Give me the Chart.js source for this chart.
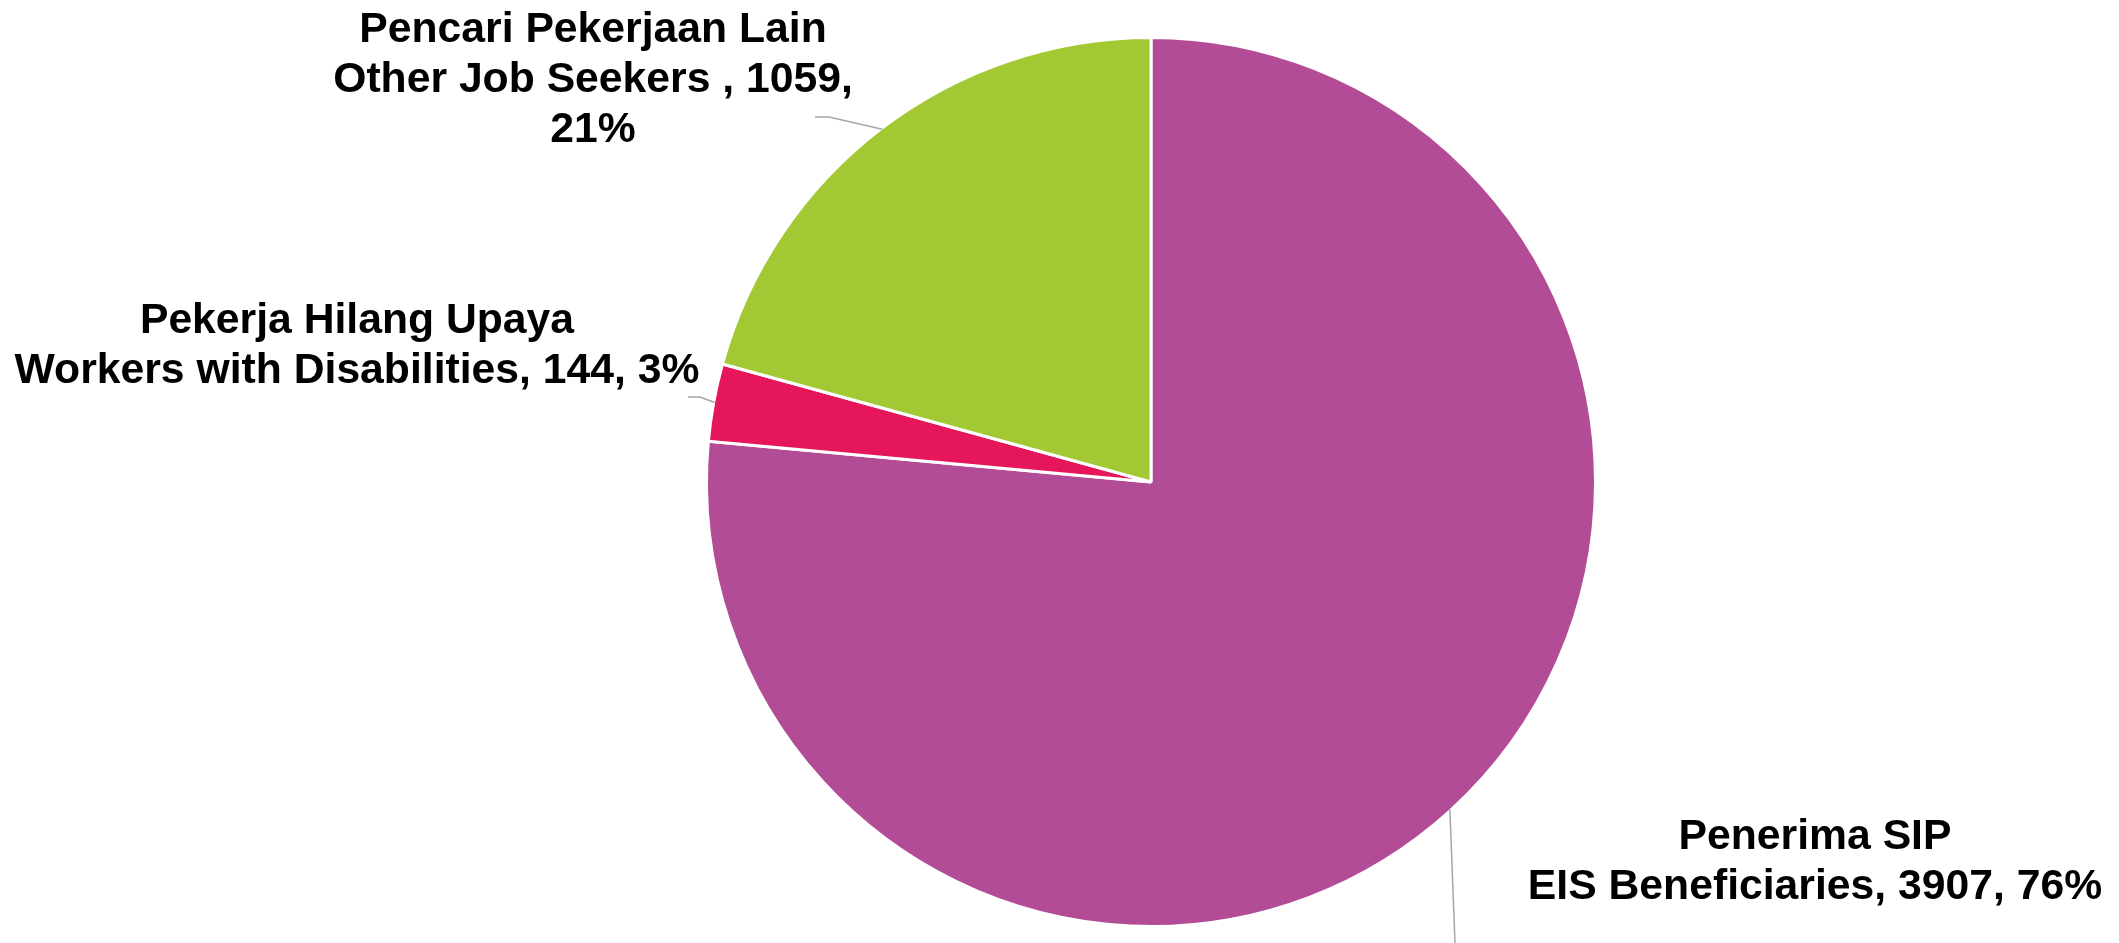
<!DOCTYPE html>
<html>
<head>
<meta charset="utf-8">
<script src="https://cdn.jsdelivr.net/npm/chart.js@4"></script>
<style>
  html, body { margin: 0; padding: 0; background: #ffffff; }
  #wrap { width: 2119px; height: 943px; position: relative; }
</style>
</head>
<body>
<div id="wrap"><canvas id="c" width="2119" height="943"></canvas></div>
<script>
// ---- data ----
const categoriesId = ['Penerima SIP', 'Pekerja Hilang Upaya', 'Pencari Pekerjaan Lain'];
const categoriesEn = ['EIS Beneficiaries', 'Workers with Disabilities', 'Other Job Seekers '];
const values = [3907, 144, 1059];
const percents = ['76%', '3%', '21%'];
const colors = ['#B34C96', '#E6165A', '#A2C934'];

// ---- label layout (text anchor centres / baselines) ----
const labelCenterX = [1815, 357, 593];
const labelFirstBaseline = [849, 333, 42];
const labelLineGap = 50;
const wrapPercent = [false, false, true];
const leaderEnds = [
  [[1455, 943]],
  [[700, 397], [688, 397]],
  [[829, 117], [815, 117]]
];

const labelPlugin = {
  id: 'pieLabels',
  afterDatasetsDraw(chart) {
    const ctx = chart.ctx;
    const meta = chart.getDatasetMeta(0);
    ctx.save();
    // leader lines
    meta.data.forEach((arc, i) => {
      const p = arc.getProps(['x', 'y', 'startAngle', 'endAngle', 'outerRadius'], true);
      const mid = (p.startAngle + p.endAngle) / 2;
      const r = p.outerRadius - 1;
      const sx = p.x + Math.cos(mid) * r;
      const sy = p.y + Math.sin(mid) * r;
      ctx.beginPath();
      ctx.strokeStyle = '#A6A6A6';
      ctx.lineWidth = 1.5;
      ctx.moveTo(sx, sy);
      leaderEnds[i].forEach(pt => ctx.lineTo(pt[0], pt[1]));
      ctx.stroke();
    });
    // texts
    ctx.fillStyle = '#000000';
    ctx.font = 'bold 42.7px "Liberation Sans", Arial, sans-serif';
    ctx.textAlign = 'center';
    ctx.textBaseline = 'alphabetic';
    categoriesId.forEach((name, i) => {
      const lines = [name];
      const tail = categoriesEn[i] + ', ' + values[i] + ',';
      if (wrapPercent[i]) {
        lines.push(tail);
        lines.push(percents[i]);
      } else {
        lines.push(tail + ' ' + percents[i]);
      }
      lines.forEach((t, k) => {
        ctx.fillText(t, labelCenterX[i], labelFirstBaseline[i] + k * labelLineGap);
      });
    });
    ctx.restore();
  }
};

new Chart(document.getElementById('c'), {
  type: 'pie',
  data: {
    labels: categoriesId,
    datasets: [{
      data: values,
      backgroundColor: colors,
      borderColor: '#FFFFFF',
      borderWidth: 3,
      hoverOffset: 0
    }]
  },
  options: {
    responsive: false,
    animation: false,
    devicePixelRatio: 1,
    radius: 444.5,
    layout: { padding: { left: 705, right: 522, top: 36, bottom: 15 } },
    plugins: {
      legend: { display: false },
      tooltip: { enabled: false },
      title: { display: false }
    },
    events: []
  },
  plugins: [labelPlugin]
});
</script>
</body>
</html>
